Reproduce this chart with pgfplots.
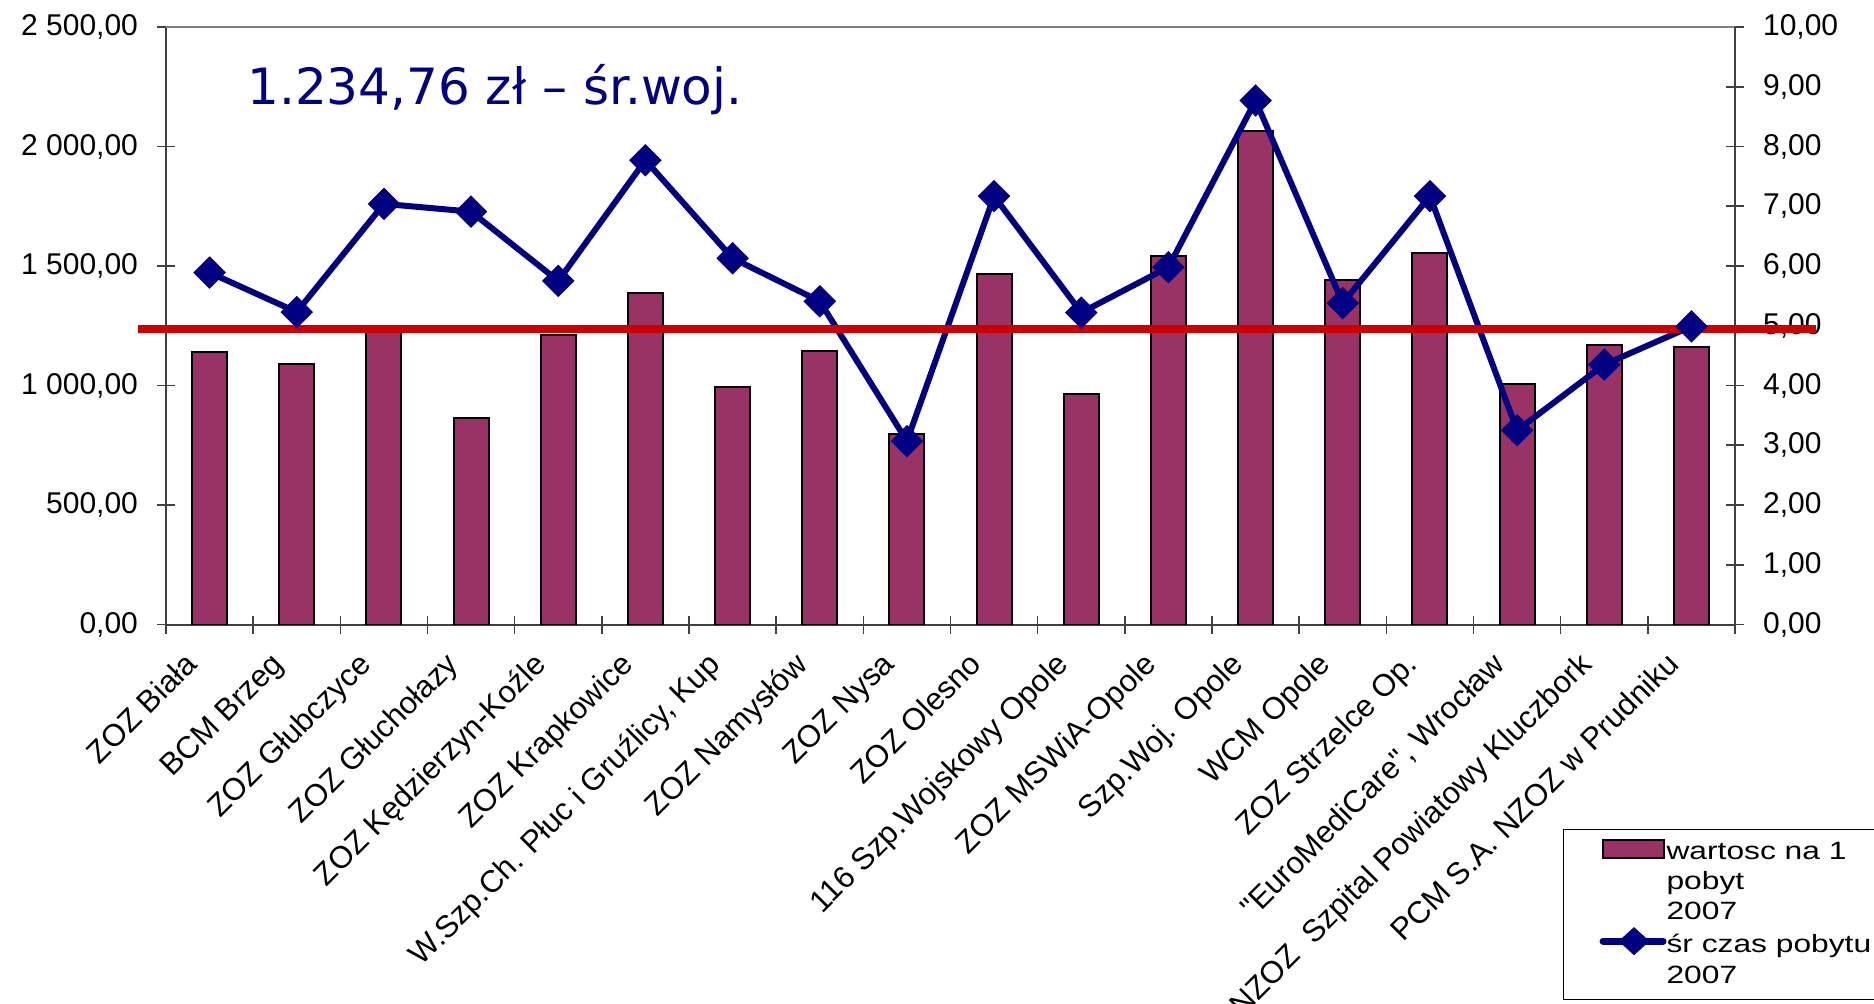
\documentclass[border=0pt]{standalone}
\usepackage{fontspec}
\setmainfont{Liberation Sans}
\newfontfamily\titlefont{DejaVu Sans}
\newfontfamily\qfont{Liberation Sans}
\newfontfamily\legendfont[FakeStretch=1.27]{Liberation Sans}
\newcommand{\sq}{{\qfont"}}
\usepackage{pgfplots}
\usepackage{pgfplotstable}
\pgfplotsset{compat=1.18}
\definecolor{barcol}{HTML}{993366}
\definecolor{linecol}{HTML}{000080}
\definecolor{redcol}{HTML}{CC0000}
\definecolor{axcol}{HTML}{404040}

\pgfplotstableread{
x val dur
0 1139 5.89
1 1091 5.23
2 1250 7.04
3 866 6.91
4 1213 5.75
5 1388 7.77
6 994 6.13
7 1144 5.41
8 797 3.07
9 1467 7.17
10 963 5.22
11 1544 5.98
12 2063 8.77
13 1440 5.38
14 1556 7.17
15 1008 3.25
16 1168 4.35
17 1163 4.99
}\datatable

\pgfplotsset{base/.style={
  scale only axis, width=784.5pt, height=298.75pt,
  at={(83pt,-312.25pt)}, anchor=south west,
  xmin=-0.5, xmax=17.5, ymin=0,
  major tick length=9pt, minor tick length=9pt,
  every tick/.style={axcol, line width=0.8pt},
  axis line style={axcol, line width=1pt},
  tick label style={font=\fontsize{15}{17}\selectfont},
  /pgf/number format/assume math mode=true}}

\begin{document}
\begin{tikzpicture}
\begin{axis}[base, ybar, bar width=17.5pt, ymax=2500, ytick={0,500,...,2500},
  axis x line*=bottom, axis y line*=left, tick align=center,
  yticklabel={\pgfmathprintnumber[fixed,fixed zerofill,precision=2,use comma,1000 sep={\ }]{\tick}},
  yticklabel style={xshift=-6pt},
  xtick={0,...,17},
  xticklabels={{ZOZ Biała},{BCM Brzeg},{ZOZ Głubczyce},{ZOZ Głuchołazy},{ZOZ Kędzierzyn-Koźle},{ZOZ Krapkowice},{W.Szp.Ch. Płuc i Gruźlicy, Kup},{ZOZ Namysłów},{ZOZ Nysa},{ZOZ Olesno},{116 Szp.Wojskowy Opole},{ZOZ MSWiA-Opole},{Szp.Woj. Opole},{WCM Opole},{ZOZ Strzelce Op.},{\sq EuroMediCare\sq, Wrocław},{NZOZ\ \ Szpital Powiatowy Kluczbork},{PCM S.A. NZOZ w Prudniku}},
  major x tick style={draw=none},
  minor xtick={-0.5,0.5,...,17.5},
  xticklabel style={anchor=north east, xshift=-13.5pt, yshift=-3.5pt, rotate=45, font=\fontsize{15.5}{17}\selectfont},
]
\addplot[fill=barcol, draw=black, line width=1pt] table[x=x,y=val]{\datatable};
\end{axis}
\begin{axis}[base, ymax=10, ytick={0,1,...,10},
  axis y line*=right, axis x line*=top, tick align=center, xtick=\empty, clip=false,
  x axis line style={color=gray},
  yticklabel={\pgfmathprintnumber[fixed,fixed zerofill,precision=2,use comma]{\tick}},
  yticklabel style={xshift=6pt},
  legend style={at={(0.8904,-0.3423)}, anchor=north west, draw=black, line width=0.5pt,
    font=\legendfont\fontsize{12.5}{15}\selectfont, row sep=0pt, column sep=0pt,
    inner xsep=18pt, inner ysep=4pt,
    nodes={inner sep=0pt, text height=11pt, text depth=4.1pt, anchor=base west}},
]
\addlegendimage{legend image code/.code={\draw[fill=barcol, draw=black, line width=1pt] (0pt,1pt) rectangle (30.5pt,10pt);}}
\addlegendentry{wartosc na 1}
\addlegendimage{empty legend}
\addlegendentry{pobyt}
\addlegendimage{empty legend}
\addlegendentry{2007}
\addplot[linecol, line width=3pt, mark=square*, mark size=4.25pt, mark options={rotate=45, solid},
  legend image code/.code={\draw[linecol, line width=3.5pt, line cap=round] (0pt,5.85pt) -- (30pt,5.85pt);
    \fill[linecol] (15.5pt,0.85pt) -- (21pt,5.85pt) -- (15.5pt,10.85pt) -- (10pt,5.85pt) -- cycle;}]
  table[x=x,y=dur]{\datatable};
\addlegendentry{śr czas pobytu}
\addlegendimage{empty legend}
\addlegendentry{2007}
\addplot[redcol, line width=4pt, forget plot] coordinates {(-0.82,4.93904) (18.43,4.93904)};
\end{axis}
\node[anchor=base west, inner sep=0pt, text=linecol, font=\titlefont\fontsize{25}{30}\selectfont] at (123.5pt,-52pt) {1.234,76 zł – śr.woj.};
\pgfresetboundingbox
\path[use as bounding box] (0,0) rectangle (937pt,-501.5pt);
\end{tikzpicture}
\end{document}
